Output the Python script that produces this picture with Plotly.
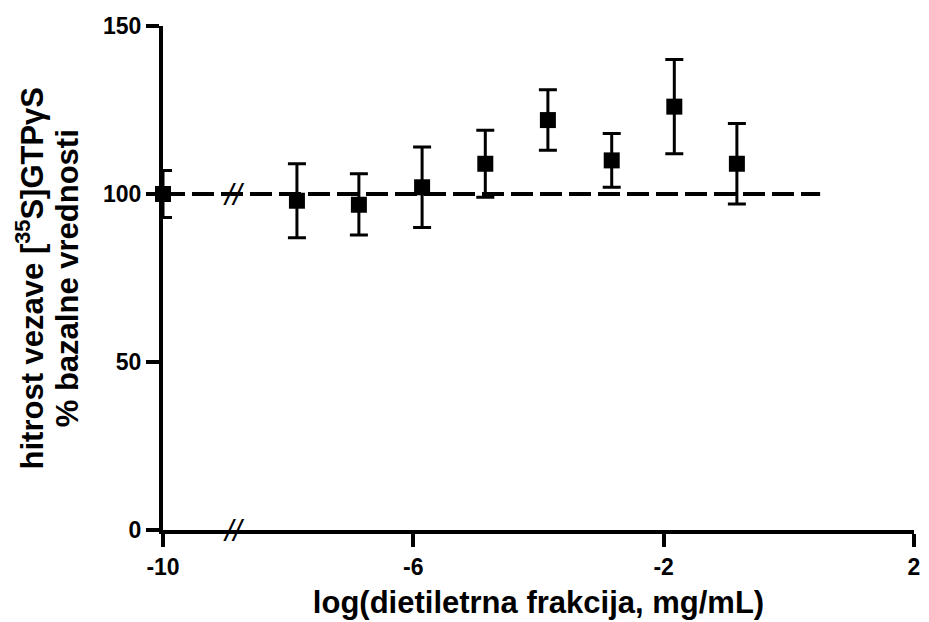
import plotly.graph_objects as go

# Data
log_conc = [-10, -7.86, -6.87, -5.86, -4.85, -3.85, -2.83, -1.83, -0.83]
response = [100, 98, 96.8, 102, 109, 122, 110, 126, 109]
err_plus = [7, 11, 9.2, 12, 10, 9, 8, 14, 12]
err_minus = [7, 11, 9, 12, 10, 9, 8, 14, 12]

baseline_x = [-10, 0.5]
baseline_y = [100, 100]

break_x = [-8.88, -8.88]
break_y = [100, 0]

x_ticks = [-10, -6, -2, 2]
y_ticks = [0, 50, 100, 150]

y_title_lines = ["<b>hitrost vezave [<sup>35</sup>S]GTPγS</b>", "<b>% bazalne vrednosti</b>"]
x_title = "<b>log(dietiletrna frakcija, mg/mL)</b>"

FONT = "Arial, 'Liberation Sans', sans-serif"

fig = go.Figure()

fig.add_trace(go.Scatter(
    x=baseline_x, y=baseline_y, mode="lines",
    line=dict(color="black", width=4, dash="22px,7px"),
    hoverinfo="skip", showlegend=False, cliponaxis=False,
))

fig.add_trace(go.Scatter(
    x=log_conc, y=response, mode="markers",
    marker=dict(symbol="square", size=16, color="black"),
    error_y=dict(type="data", symmetric=False, array=err_plus, arrayminus=err_minus,
                 color="black", thickness=3, width=9),
    showlegend=False, cliponaxis=False,
))

for bx, by in zip(break_x, break_y):
    fig.add_annotation(x=bx, y=by, text="<i>//</i>", showarrow=False,
                       font=dict(family=FONT, size=30, color="black"),
                       xanchor="center", yanchor="middle")

# two-line y-axis title with tight line spacing
for txt, px in zip(y_title_lines, [-0.1765, -0.1275]):
    fig.add_annotation(xref="paper", yref="paper", x=px, y=0.5, text=txt,
                       textangle=-90, showarrow=False,
                       font=dict(family=FONT, size=31, color="black"),
                       xanchor="center", yanchor="middle")

fig.update_xaxes(
    range=[-10, 2], tickvals=x_ticks, ticktext=[str(v) for v in x_ticks],
    showline=True, linecolor="black", linewidth=4,
    ticks="outside", ticklen=13, tickwidth=4, tickcolor="black",
    showgrid=False, zeroline=False, automargin=False,
    tickfont=dict(family=FONT, size=23, color="black", weight="bold"),
    title=dict(text=x_title, font=dict(family=FONT, size=31, color="black"), standoff=14),
)
fig.update_yaxes(
    range=[0, 150], tickvals=y_ticks,
    showline=True, linecolor="black", linewidth=4,
    ticks="outside", ticklen=13, tickwidth=4, tickcolor="black",
    showgrid=False, zeroline=False, automargin=False,
    tickfont=dict(family=FONT, size=23, color="black", weight="bold"),
)

fig.update_layout(
    width=929, height=622,
    margin=dict(l=155, r=23, t=18, b=100, autoexpand=False),
    paper_bgcolor="white", plot_bgcolor="white",
    font=dict(family=FONT, color="black"),
)

fig.write_html("out.html")
